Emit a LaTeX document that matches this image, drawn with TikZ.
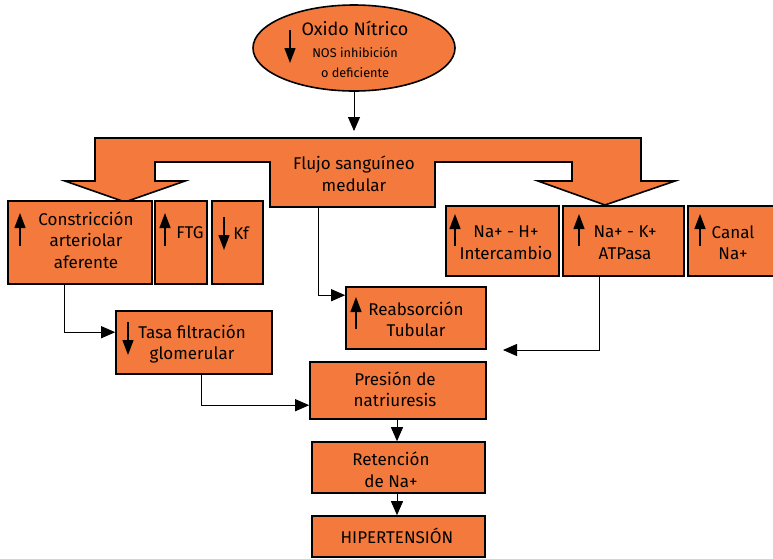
\documentclass[tikz,border=0pt]{standalone}
\usepackage{fontspec}
\setmainfont{Fira Sans}
\usetikzlibrary{arrows.meta,shapes.geometric,calc}
\definecolor{boxorange}{RGB}{243,122,60}
\begin{document}
\begin{tikzpicture}[x=1pt,y=-1pt,
  box/.style={draw=black, line width=1.6pt, fill=boxorange, rectangle, inner sep=0pt},
  txt/.style={align=center, font=\fontsize{17}{21.5}\selectfont, inner sep=0pt},
  link/.style={draw=black, line width=0.9pt, -{Triangle[length=14pt,width=12pt]}},
  updown/.style={line width=1.3pt, -{Triangle[length=15pt,width=11pt]}}
]
\useasboundingbox (0,0) rectangle (773,558);

% Nitric oxide ellipse
\node[draw=black, line width=1.6pt, fill=boxorange, ellipse, inner sep=0pt,
      minimum width=202pt, minimum height=86pt] (no) at (354,48) {};
\node[txt, font=\fontsize{18}{18}\selectfont] (no-t1) at (355,28) {Oxido Nítrico};
\node[txt, font=\fontsize{12.7}{20}\selectfont] (no-t2) at (355,62) {NOS inhibición\\o deficiente};
\draw[updown] (290,30) -- (290,63);

% Blood flow block arrow
\draw[line width=1.6pt, fill=boxorange]
  (95,138) -- (641,138) -- (641,181) -- (675,181) -- (605,205) -- (538,181)
  -- (572,181) -- (572,162) -- (435,162) -- (435,207) -- (270,207)
  -- (270,162) -- (155,162) -- (155,181) -- (185,181) -- (125,202)
  -- (65,181) -- (95,181) -- cycle;
\node[txt] (flujo-t) at (354,174) {Flujo sanguíneo\\medular};
\coordinate (flujo-top) at (354,131);
\coordinate (flujo-out) at (318,207);

% Left group
\node[box, minimum width=144pt, minimum height=83pt] (con) at (80,242.5) {};
\node[txt] (con-t) at (86,240) {Constricción\\arteriolar\\aferente};
\draw[updown] (20,246) -- (20,213);

\node[box, minimum width=52pt, minimum height=83pt] (ftg) at (181,242.5) {};
\node[txt] (ftg-t) at (190,233) {FTG};
\draw[updown] (165,246) -- (165,213);

\node[box, minimum width=51pt, minimum height=83pt] (kf) at (237.5,242.5) {};
\node[txt] (kf-t) at (241,233) {Kf};
\draw[updown] (224,217) -- (224,250);

% Right group
\node[box, minimum width=113pt, minimum height=70pt] (nah) at (502.5,241) {};
\node[txt] (nah-t) at (506,242.5) {Na+ - H+\\Intercambio};
\draw[updown] (455,246) -- (455,214);

\node[box, minimum width=121pt, minimum height=70pt] (nak) at (623.5,241) {};
\node[txt] (nak-t) at (625,242.5) {Na+ - K+\\ATPasa};
\draw[updown] (579,246) -- (579,214);

\node[box, minimum width=86pt, minimum height=70pt] (can) at (731,241) {};
\node[txt] (can-t) at (733,242.5) {Canal\\Na+};
\draw[updown] (700,246) -- (700,214);

% Middle boxes
\node[box, minimum width=140pt, minimum height=62pt] (reab) at (416,318) {};
\node[txt] (reab-t) at (416,319.5) {Reabsorción\\Tubular};
\draw[updown] (356,329) -- (356,297);

\node[box, minimum width=156pt, minimum height=63pt] (tasa) at (194,342.5) {};
\node[txt] (tasa-t) at (192,344) {Tasa filtración\\glomerular};
\draw[updown] (128,322) -- (128,355);

\node[box, minimum width=176pt, minimum height=57pt] (pres) at (398,390.5) {};
\node[txt] (pres-t) at (395,389.5) {Presión de\\natriuresis};

\node[box, minimum width=173pt, minimum height=51pt] (ret) at (398.5,467.5) {};
\node[txt] (ret-t) at (391,470) {Retención\\de Na+};

\node[box, minimum width=173pt, minimum height=41pt] (hip) at (398.5,536.5) {};
\node[txt] (hip-t) at (397,536) {HIPERTENSIÓN};

\coordinate (nak-end) at (503,350);

% Connectors
\draw[link] (no.south) -- (flujo-top);
\draw[link] (flujo-out) |- ($(reab.north west)+(0,9)$);
\draw[link] ($(con.south west)+(57,0)$) |- ($(tasa.north west)+(0,22)$);
\draw[link] ($(tasa.south west)+(86,0)$) |- ($(pres.north west)+(0,44)$);
\draw[link] ($(nak.south west)+(37,0)$) |- (nak-end);
\draw[link] (pres.south -| 397,0) -- (ret.north -| 397,0);
\draw[link] (ret.south -| 397,0) -- (hip.north -| 397,0);
\end{tikzpicture}
\end{document}
